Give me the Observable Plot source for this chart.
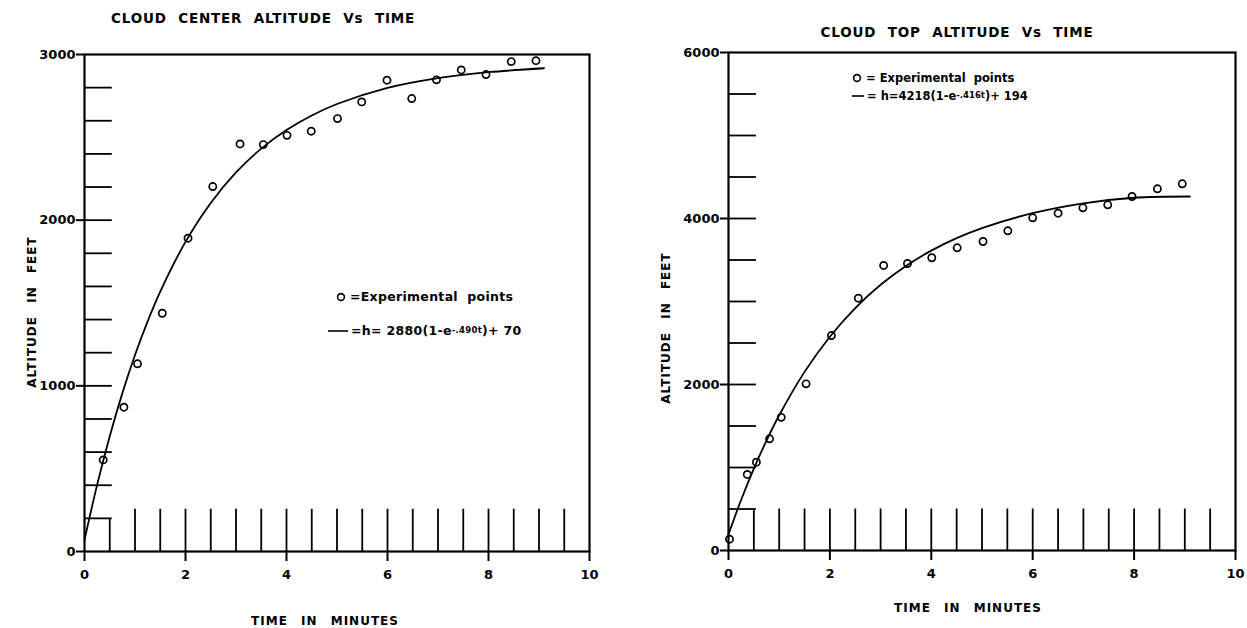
<!DOCTYPE html>
<html>
<head>
<meta charset="utf-8">
<script src="https://cdn.jsdelivr.net/npm/d3@7"></script>
<script src="https://cdn.jsdelivr.net/npm/@observablehq/plot@0.6"></script>
<style>
  html, body { margin: 0; padding: 0; background: #fff; }
  #wrap { position: relative; width: 1247px; height: 628px; overflow: hidden; font-family: "DejaVu Sans", sans-serif; font-weight: bold; color: #000; }
  .abs { position: absolute; white-space: nowrap; }
  .c { transform: translate(-50%, -50%); }
  .title { font-size: 13.5px; letter-spacing: 0.8px; word-spacing: 6px; }
  .axl { font-size: 12px; letter-spacing: 1px; word-spacing: 8px; }
  .vert { transform: translate(-50%, -50%) rotate(-90deg); }
  .leg { font-size: 11.5px; display: flex; align-items: center; }
  .legL { font-size: 12.5px; letter-spacing: 0.3px; }
  .leg sup { font-size: 8.5px; position: relative; top: -1px; }
</style>
</head>
<body>
<div id="wrap"></div>
<script>
// ---------- Data: Cloud center altitude ----------
const centerTime = [0.37, 0.78, 1.05, 1.54, 2.05, 2.54, 3.08, 3.54, 4.01, 4.49, 5.01, 5.49, 5.99, 6.48, 6.97, 7.46, 7.95, 8.45, 8.94];
const centerAlt  = [553, 871, 1133, 1438, 1891, 2203, 2460, 2456, 2512, 2537, 2613, 2714, 2845, 2734, 2847, 2907, 2879, 2957, 2963];
const centerFitTime = [0, 0.25, 0.5, 0.75, 1, 1.25, 1.5, 2, 2.5, 3, 3.5, 4, 4.5, 5, 6, 7, 8, 9.1];
const centerFitAlt  = [70, 402, 696, 956, 1186, 1389, 1569, 1869, 2104, 2288, 2432, 2544, 2632, 2701, 2798, 2857, 2893, 2917];

// ---------- Data: Cloud top altitude ----------
const topTime = [0.02, 0.37, 0.55, 0.81, 1.04, 1.53, 2.03, 2.56, 3.06, 3.53, 4.01, 4.51, 5.02, 5.51, 6.0, 6.5, 6.99, 7.48, 7.96, 8.46, 8.95];
const topAlt  = [136, 916, 1064, 1346, 1604, 2008, 2590, 3040, 3434, 3458, 3527, 3647, 3723, 3852, 4008, 4064, 4129, 4165, 4265, 4358, 4418];
const topFitTime = [0, 0.25, 0.5, 0.75, 1, 1.5, 2, 2.5, 3, 3.5, 4, 4.5, 5, 6, 7, 8, 9.1];
const topFitAlt  = [194, 611, 986, 1324, 1629, 2152, 2576, 2921, 3201, 3428, 3613, 3763, 3885, 4064, 4183, 4250, 4265];

// ---------- Tick labels / graph-paper ticks ----------
const xTickLabels = [0, 2, 4, 6, 8, 10];
const centerYTickLabels = [0, 1000, 2000, 3000];
const topYTickLabels = [0, 2000, 4000, 6000];
const halfMinuteTicks = [1, 1.5, 2, 2.5, 3, 3.5, 4, 4.5, 5, 5.5, 6, 6.5, 7, 7.5, 8, 8.5, 9, 9.5];
const boxTick = [0.5];
const centerGridY = [200, 400, 600, 800, 1000, 1200, 1400, 1600, 1800, 2000, 2200, 2400, 2600, 2800];
const topGridY = [500, 1000, 1500, 2000, 2500, 3000, 3500, 4000, 4500, 5000, 5500];

const zip = (xs, ys) => xs.map((x, i) => ({t: x, h: ys[i]}));

function makeChart(opts) {
  const pts = zip(opts.time, opts.alt);
  const fit = zip(opts.fitTime, opts.fitAlt);
  return Plot.plot({
    width: opts.width,
    height: 628,
    marginLeft: opts.ml, marginRight: opts.mr, marginTop: opts.mt, marginBottom: opts.mb,
    x: {domain: [0, 10]},
    y: {domain: [0, opts.ymax]},
    style: {fontFamily: "DejaVu Sans, sans-serif", fontSize: "13px", fontWeight: "bold", color: "#000", background: "transparent", overflow: "visible"},
    marks: [
      Plot.ruleY(opts.gridY, {x1: 0, x2: 0.55, stroke: "#000", strokeWidth: 1.8}),
      Plot.ruleX(boxTick, {y1: 0, y2: opts.boxH, stroke: "#000", strokeWidth: 1.8}),
      Plot.ruleX(halfMinuteTicks, {y1: 0, y2: opts.tickH, stroke: "#000", strokeWidth: 1.8}),
      Plot.frame({stroke: "#000", strokeWidth: 2.2}),
      Plot.axisX({ticks: xTickLabels, tickSize: 10, tickPadding: 8, label: null, strokeWidth: 2, tickFormat: d => String(d)}),
      Plot.axisY({ticks: opts.yTicks, tickSize: 8, tickPadding: 1, label: null, strokeWidth: 2, tickFormat: d => String(d)}),
      Plot.line(fit, {x: "t", y: "h", curve: "catmull-rom", stroke: "#000", strokeWidth: 1.8}),
      Plot.dot(pts, {x: "t", y: "h", r: 3.6, stroke: "#000", strokeWidth: 1.7, fill: "none"})
    ]
  });
}

const wrap = document.getElementById("wrap");

const left = makeChart({
  time: centerTime, alt: centerAlt, fitTime: centerFitTime, fitAlt: centerFitAlt,
  width: 623, ml: 84, mr: 34, mt: 54, mb: 77, ymax: 3000,
  gridY: centerGridY, boxH: 200, tickH: 255, yTicks: centerYTickLabels
});
left.style.position = "absolute"; left.style.left = "0px"; left.style.top = "0px";
wrap.appendChild(left);

const right = makeChart({
  time: topTime, alt: topAlt, fitTime: topFitTime, fitAlt: topFitAlt,
  width: 624, ml: 105, mr: 12, mt: 52, mb: 78, ymax: 6000,
  gridY: topGridY, boxH: 500, tickH: 500, yTicks: topYTickLabels
});
right.style.position = "absolute"; right.style.left = "623px"; right.style.top = "0px";
wrap.appendChild(right);

const circ = '<svg width="10" height="10" style="margin-right:4px"><circle cx="5" cy="5" r="3.4" fill="none" stroke="#000" stroke-width="1.6"/></svg>';
const dash = (w) => `<svg width="${w}" height="4" style="margin-right:3px"><line x1="0" y1="2" x2="${w}" y2="2" stroke="#000" stroke-width="1.6"/></svg>`;

wrap.insertAdjacentHTML("beforeend", `
  <div class="abs c title" style="left:263px;top:18px">CLOUD CENTER ALTITUDE Vs TIME</div>
  <div class="abs c title" style="left:957px;top:32px">CLOUD TOP ALTITUDE Vs TIME</div>
  <div class="abs vert axl" style="left:32px;top:312px">ALTITUDE IN FEET</div>
  <div class="abs vert axl" style="left:666px;top:328px">ALTITUDE IN FEET</div>
  <div class="abs c axl" style="left:325px;top:621px">TIME IN MINUTES</div>
  <div class="abs c axl" style="left:968px;top:608px">TIME IN MINUTES</div>
  <div class="abs leg legL" style="left:336px;top:289px">${circ}=Experimental&nbsp;&nbsp;points</div>
  <div class="abs leg legL" style="left:328px;top:323px">${dash(20)}=h= 2880(1-e<sup>-.490t</sup>)+ 70</div>
  <div class="abs leg" style="left:852px;top:71px">${circ}= Experimental&nbsp;&nbsp;points</div>
  <div class="abs leg" style="left:852px;top:89px">${dash(12)}= h=4218(1-e<sup>-.416t</sup>)+ 194</div>
`);
</script>
</body>
</html>
